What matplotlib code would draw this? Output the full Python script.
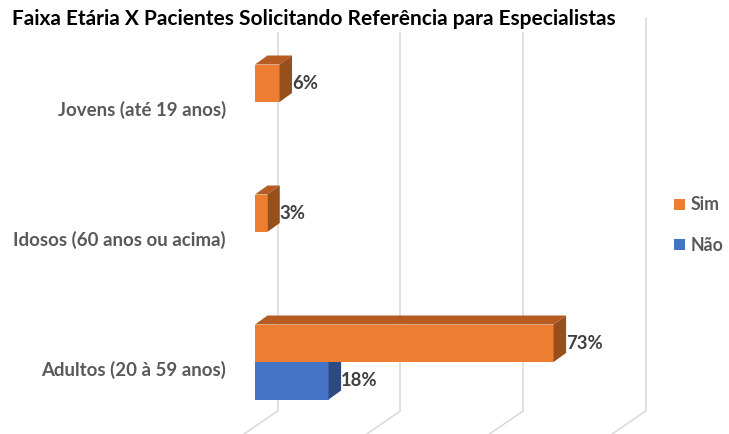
# Faixa etária x pacientes solicitando referência (barras 3D estilo Excel)
import matplotlib.pyplot as plt
from matplotlib.patches import Polygon, Patch

plt.rcParams["font.family"] = ["Lato", "DejaVu Sans"]

# ----------------------------
# Dados
# ----------------------------
categorias = ["Adultos (20 à 59 anos)", "Idosos (60 anos ou acima)", "Jovens (até 19 anos)"]
sim = [0.73, 0.03, 0.06]
nao = [0.18, 0.00, 0.00]
grid_vals = [0.0, 0.3, 0.6, 0.9]

titulo = "Faixa Etária X Pacientes Solicitando Referência para Especialistas"

# cores (frente, topo, lado)
cor_sim = ("#ED7D31", "#B65B22", "#97501C")
cor_nao = ("#4472C4", "#3A62A8", "#2C4A80")
cor_grid = "#D9D9D9"
cor_txt = "#595959"

# ----------------------------
# Geometria (unidades de dados)
# ----------------------------
W, H = 729, 434
px_x = 409.0          # pixels por unidade de valor
px_y = 130.0          # pixels por categoria
x0_px, y0_px = 255, 370

bar_h = 37.5 / px_y
off = 8 / px_y
dep_x, dep_y = 12.5 / px_x, 9 / px_y      # profundidade da barra
wall_x, wall_y = 22.7 / px_x, 15.5 / px_y  # parede do fundo
wall_bottom = (y0_px - 411) / px_y
wall_top = (y0_px - 18) / px_y

fig = plt.figure(figsize=(W / 100, H / 100), dpi=100)
ax = fig.add_axes([0, 0, 1, 1])
ax.set_xlim(-x0_px / px_x, (W - x0_px) / px_x)
ax.set_ylim((y0_px - H) / px_y, y0_px / px_y)
ax.axis("off")

# grade: parede vertical + piso inclinado
for g in grid_vals:
    gx = g + wall_x
    ax.plot([gx, gx], [wall_bottom, wall_top], color=cor_grid, lw=1.1, zorder=1)
    ax.plot([gx, gx - 2.5 * wall_x], [wall_bottom, wall_bottom - 2.5 * wall_y],
            color=cor_grid, lw=1.1, zorder=1)


def barra3d(v, y_base, cores):
    frente, topo, lado = cores
    y1 = y_base + bar_h
    ax.add_patch(Polygon([(0, y_base), (v, y_base), (v, y1), (0, y1)],
                         closed=True, fc=frente, ec="none", zorder=3))
    ax.add_patch(Polygon([(0, y1), (v, y1), (v + dep_x, y1 + dep_y), (dep_x, y1 + dep_y)],
                         closed=True, fc=topo, ec="none", zorder=3))
    ax.add_patch(Polygon([(v, y_base), (v + dep_x, y_base + dep_y),
                          (v + dep_x, y1 + dep_y), (v, y1)],
                         closed=True, fc=lado, ec="none", zorder=3))
    ax.text(v + dep_x, y_base + bar_h / 2, f"{v * 100:.0f}%",
            ha="left", va="center", fontsize=13.3, fontweight="bold",
            color="#404040", zorder=4)


for i, cat in enumerate(categorias):
    if nao[i] > 0:
        barra3d(nao[i], i + off - bar_h, cor_nao)
    if sim[i] > 0:
        barra3d(sim[i], i + off, cor_sim)
    ax.text(-29 / px_x, i, cat, ha="right", va="center", fontsize=13.4,
            fontweight="bold", color=cor_txt)

# legenda
handles = [Patch(fc=cor_sim[0], label="Sim"), Patch(fc=cor_nao[0], label="Não")]
ax.legend(handles=handles, loc="center left", bbox_to_anchor=(674 / W, 1 - 225 / H),
          frameon=False, borderpad=0, borderaxespad=0, handlelength=0.6,
          handleheight=0.6, handletextpad=0.35, labelspacing=1.3,
          prop={"size": 12.8, "weight": "bold"}, labelcolor=cor_txt)

# título
fig.text(12 / W, 1 - 19 / H, titulo, ha="left", va="center", fontsize=15,
         fontweight="bold", color="black",
         bbox=dict(fc="white", ec="none", pad=2))

fig.savefig("out.png", dpi=100)
